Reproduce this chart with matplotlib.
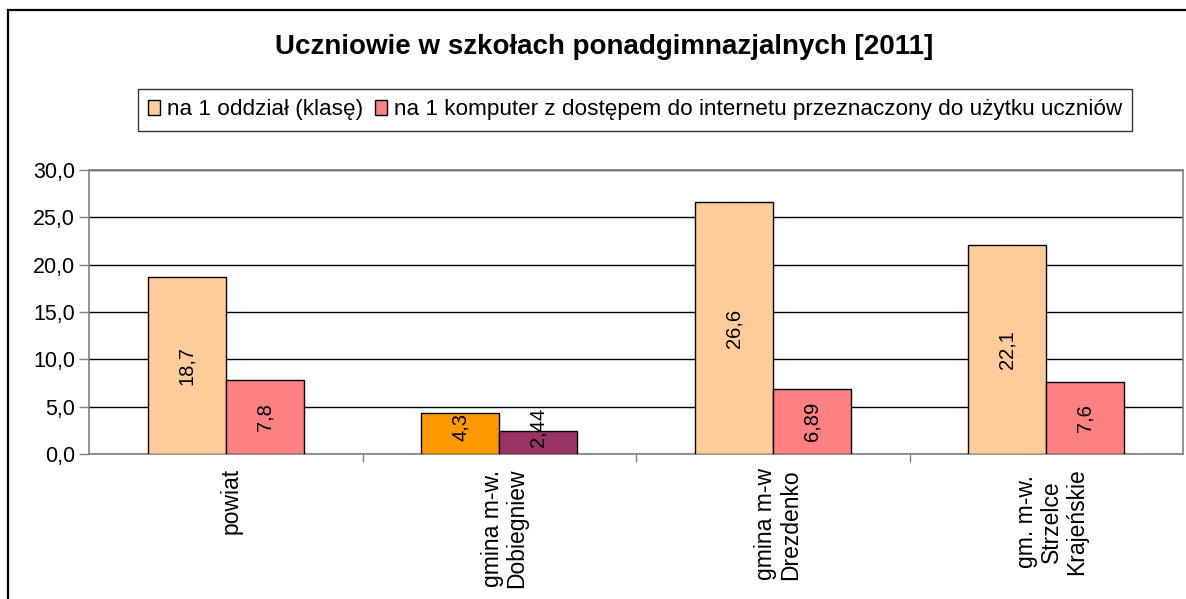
import matplotlib
matplotlib.use("Agg")
import matplotlib.pyplot as plt
from matplotlib.patches import Rectangle
from matplotlib.ticker import FuncFormatter, FixedLocator
import numpy as np

plt.rcParams['font.family'] = ['Liberation Sans', 'DejaVu Sans']

title = "Uczniowie w szkołach ponadgimnazjalnych [2011]"
categories = ["powiat", "gmina m-w.\nDobiegniew", "gmina m-w\nDrezdenko", "gm. m-w.\nStrzelce\nKrajeńskie"]
series_names = ["na 1 oddział (klasę)",
                "na 1 komputer z dostępem do internetu przeznaczony do użytku uczniów"]
s1 = [18.7, 4.3, 26.6, 22.1]
s2 = [7.8, 2.44, 6.89, 7.6]
s1_colors = ["#FFCC99", "#FF9900", "#FFCC99", "#FFCC99"]
s2_colors = ["#FF8080", "#993366", "#FF8080", "#FF8080"]

W, H = 1186, 599
fig = plt.figure(figsize=(W / 100, H / 100), dpi=100)

# outer chart frame
fig.patches.append(Rectangle((8 / W, -0.1), 1.2, (H - 10) / H + 0.1, transform=fig.transFigure,
                             fill=False, edgecolor="#000000", linewidth=1.6))

ax = fig.add_axes([89 / W, (H - 454) / H, (1183 - 89) / W, (454 - 170) / H])
x = np.arange(len(categories))
bw = 0.285
b1 = ax.bar(x - bw / 2, s1, bw, color=s1_colors, edgecolor="black", linewidth=1.0, zorder=3,
            label=series_names[0])
b2 = ax.bar(x + bw / 2, s2, bw, color=s2_colors, edgecolor="black", linewidth=1.0, zorder=3,
            label=series_names[1])

def fmt(v):
    return f"{v:g}".replace(".", ",")

for bars, vals in ((b1, s1), (b2, s2)):
    for r, v in zip(bars, vals):
        ax.text(r.get_x() + r.get_width() / 2, max(v / 2, 2.8), fmt(v), rotation=90,
                ha="center", va="center", fontsize=14.5, zorder=4)

ax.set_xlim(-0.5, 3.5)
ax.set_ylim(0, 30)
ax.set_yticks(np.arange(0, 31, 5))
ax.yaxis.set_major_formatter(FuncFormatter(lambda v, p: f"{v:.1f}".replace(".", ",")))
ax.tick_params(axis="y", labelsize=15.5, length=7, width=1, color="#808080", pad=3)
ax.grid(axis="y", color="black", linewidth=1.0, zorder=0)

ax.xaxis.set_major_locator(FixedLocator([0.5, 1.5, 2.5]))
ax.xaxis.set_major_formatter(FuncFormatter(lambda v, p: ""))
ax.tick_params(axis="x", length=6, width=1, color="#808080")
for xi, lab in zip(x, categories):
    ax.text(xi + 0.02, -1.5, lab, rotation=90, ha="center", va="top", multialignment="center",
            fontsize=16.5, linespacing=1.1)

for s in ax.spines.values():
    s.set_color("#808080")
    s.set_linewidth(1.2)

fig.text(604 / W, 1 - 47 / H, title, ha="center", va="center", fontsize=20, fontweight="bold")

leg = fig.legend(handles=[b1[0], b2[0]], labels=series_names, loc="center",
                 bbox_to_anchor=(635 / W, 1 - 110 / H), ncol=2, frameon=True, fancybox=False,
                 fontsize=16.2, handlelength=0.55, handleheight=0.65, handletextpad=0.3,
                 columnspacing=0.5, borderpad=0.45, borderaxespad=0)
leg.get_frame().set_edgecolor("#000000")
leg.get_frame().set_linewidth(1.0)
leg.legend_handles[1].set_facecolor("#FF8080")
leg.legend_handles[0].set_facecolor("#FFCC99")

fig.savefig("out.png", dpi=100)
